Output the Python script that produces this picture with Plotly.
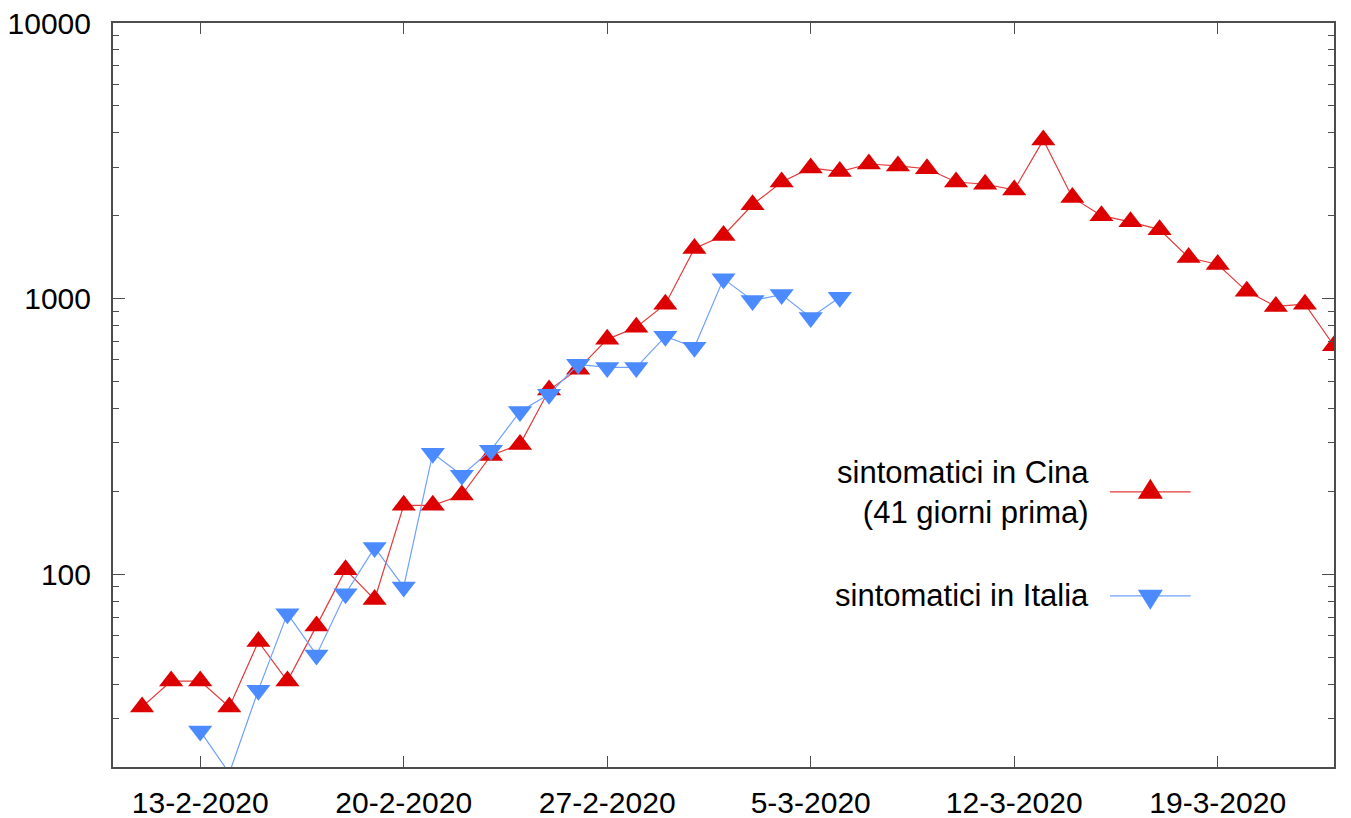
import plotly.graph_objects as go

# ---- data ----
cina_dates = (
    [f"2020-02-{d:02d}" for d in range(11, 30)]
    + [f"2020-03-{d:02d}" for d in range(1, 24)]
)
cina_values = [33, 41, 41, 33, 57, 41, 65, 104, 81, 178, 178, 194, 270, 296, 466, 555,
               712, 788, 955,
               1520, 1695, 2190, 2650, 2980, 2890, 3080, 3030, 2960, 2650, 2600, 2480,
               3760, 2330, 2000, 1900, 1780, 1410, 1330, 1063, 937, 955, 675]

italia_dates = (
    [f"2020-02-{d:02d}" for d in range(13, 30)]
    + [f"2020-03-{d:02d}" for d in range(1, 7)]
)
italia_values = [27, 19, 38, 72, 51, 85, 125, 90, 275, 229, 282, 390, 450, 578, 563, 563,
                 730, 666, 1180, 985, 1035, 855, 1012]

x_tick_vals = ["2020-02-13", "2020-02-20", "2020-02-27", "2020-03-05", "2020-03-12", "2020-03-19"]
x_tick_text = ["13-2-2020", "20-2-2020", "27-2-2020", "5-3-2020", "12-3-2020", "19-3-2020"]
y_tick_vals = [100, 1000, 10000]
y_tick_text = ["100", "1000", "10000"]
y_minor_vals = [m * 10 ** e for e in (1, 2, 3) for m in range(2, 10)]

label_cina = "sintomatici in Cina<br>(41 giorni prima)"
label_italia = "sintomatici in Italia"

RED = "#dc0000"
RED_LINE = "#e43a3a"
BLUE = "#4b8bff"
BLUE_LINE = "#6fa0ff"
AXIS = "#4d4d4d"
FONT = "Liberation Sans, Arial, Helvetica, sans-serif"

fig = go.Figure()
fig.add_trace(go.Scatter(
    x=cina_dates, y=cina_values, mode="lines+markers",
    line=dict(color=RED_LINE, width=1.2),
    marker=dict(symbol="triangle-up", size=21, color=RED),
    name="Cina", showlegend=False, cliponaxis=True,
))
fig.add_trace(go.Scatter(
    x=italia_dates, y=italia_values, mode="lines+markers",
    line=dict(color=BLUE_LINE, width=1.2),
    marker=dict(symbol="triangle-down", size=21, color=BLUE),
    name="Italia", showlegend=False, cliponaxis=True,
))

# ---- manual gnuplot-style key ----
key_x0, key_x1, key_xm = 0.8165, 0.8826, 0.8496
key_y_red, key_y_blue = 0.3699, 0.2301
text_right = 0.8008

fig.add_shape(type="line", xref="paper", yref="paper", x0=key_x0, x1=key_x1,
              y0=key_y_red, y1=key_y_red, line=dict(color=RED_LINE, width=1.2))
fig.add_shape(type="path", xref="paper", yref="paper", xsizemode="pixel", ysizemode="pixel",
              xanchor=key_xm, yanchor=key_y_red, path="M -12.5,-7 L 12.5,-7 L 0,13 Z",
              fillcolor=RED, line=dict(width=0))
fig.add_shape(type="line", xref="paper", yref="paper", x0=key_x0, x1=key_x1,
              y0=key_y_blue, y1=key_y_blue, line=dict(color=BLUE_LINE, width=1.2))
fig.add_shape(type="path", xref="paper", yref="paper", xsizemode="pixel", ysizemode="pixel",
              xanchor=key_xm, yanchor=key_y_blue, path="M -12.5,6 L 12.5,6 L 0,-14 Z",
              fillcolor=BLUE, line=dict(width=0))

fig.add_annotation(xref="paper", yref="paper", x=text_right, y=0.3686, text=label_cina,
                   showarrow=False, xanchor="right", yanchor="middle", align="right",
                   font=dict(size=31, color="black", family=FONT))
fig.add_annotation(xref="paper", yref="paper", x=text_right, y=key_y_blue, text=label_italia,
                   showarrow=False, xanchor="right", yanchor="middle", align="right",
                   font=dict(size=31, color="black", family=FONT))

fig.update_layout(
    width=1343, height=810,
    margin=dict(l=105, r=17, t=15, b=51),
    paper_bgcolor="white", plot_bgcolor="white",
    font=dict(family=FONT, size=30, color="black"),
    showlegend=False,
)
fig.update_xaxes(
    type="date", range=["2020-02-10", "2020-03-23"],
    tickmode="array", tickvals=x_tick_vals, ticktext=x_tick_text,
    ticks="inside", ticklen=11, tickwidth=1, tickcolor=AXIS,
    showline=True, linecolor=AXIS, linewidth=2, mirror="ticks",
    showgrid=False, zeroline=False, ticklabelstandoff=8, automargin=False,
    ticklabeloverflow="allow",
    tickfont=dict(size=30, family=FONT, color="black"),
)
fig.update_yaxes(
    type="log", range=[1.30103, 4],
    tickmode="array", tickvals=y_tick_vals, ticktext=y_tick_text,
    ticks="inside", ticklen=12, tickwidth=1, tickcolor=AXIS,
    minor=dict(tickmode="array", tickvals=y_minor_vals, ticks="inside", ticklen=6,
               tickwidth=1, tickcolor=AXIS, showgrid=False),
    showline=True, linecolor=AXIS, linewidth=2, mirror="ticks",
    showgrid=False, zeroline=False, ticklabelstandoff=14, automargin=False,
    ticklabeloverflow="allow",
    tickfont=dict(size=30, family=FONT, color="black"),
)

fig.write_html("out.html")
